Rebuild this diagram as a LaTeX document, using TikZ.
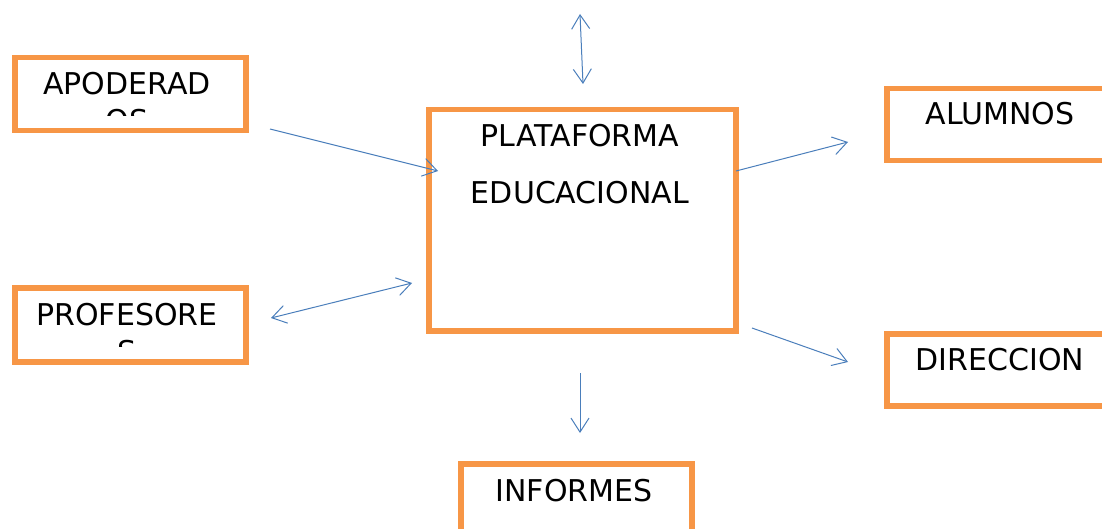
\documentclass[tikz,border=0pt]{standalone}
\usepackage{fontspec}
\setmainfont{DejaVu Sans}
\usepackage{xcolor}
\usetikzlibrary{arrows.meta,positioning}
\definecolor{boxorange}{HTML}{F79646}
\definecolor{linkblue}{HTML}{4A7EBB}
\tikzset{
    box/.style={draw=boxorange, line width=5.5pt, rectangle, inner sep=0pt, anchor=north west},
    boxtext/.style={font=\fontsize{30}{37}\selectfont, align=center, anchor=base, inner sep=0pt},
    barb/.tip={Straight Barb[length=14pt,width=18pt]},
    link/.style={draw=linkblue, line width=1pt, -barb},
    twolink/.style={draw=linkblue, line width=1pt, barb-barb}}

\begin{document}
\begin{tikzpicture}[x=1pt,y=-1pt]
\useasboundingbox (0,0) rectangle (1102,529);

%boxes
\node[box, minimum width=231pt, minimum height=73pt] (apod) at (12,55) {};
\node[box, minimum width=231pt, minimum height=74pt] (prof) at (12,285) {};
\node[box, minimum width=307pt, minimum height=221pt] (plat) at (426,107) {};
\node[box, minimum width=240pt, minimum height=72pt] (alum) at (884,86) {};
\node[box, minimum width=240pt, minimum height=72pt] (dire) at (884,331) {};
\node[box, minimum width=231pt, minimum height=90pt] (info) at (458,461) {};

%labels (base of a two line node is its last line)
\begin{scope}
\clip (12,55) rectangle (243,116);
\node[boxtext] (apodtxt) at (127,132) {APODERAD\\OS};
\end{scope}
\begin{scope}
\clip (12,285) rectangle (243,346);
\node[boxtext] (proftxt) at (127,362) {PROFESORE\\S};
\end{scope}
\node[boxtext, font=\fontsize{30}{57}\selectfont] (plattxt) at (580,204) {PLATAFORMA\\EDUCACIONAL};
\node[boxtext] (alumtxt) at (1000,125) {ALUMNOS};
\node[boxtext] (diretxt) at (1000,370) {DIRECCION};
\node[boxtext] (infotxt) at (574,501) {INFORMES};

%arrow ends
\coordinate (topa) at (580,14);
\coordinate (topb) at (583,84);
\coordinate (apoda) at (270,129);
\coordinate (apodb) at (438,171);
\coordinate (profa) at (271,318);
\coordinate (profb) at (412,283);
\coordinate (aluma) at (736,171);
\coordinate (alumb) at (848,142);
\coordinate (direa) at (752,328);
\coordinate (direb) at (848,362);
\coordinate (infoa) at (580,373);
\coordinate (infob) at (580,433);

%draw lines
\draw[twolink] (topa) -- (topb);
\draw[link] (apoda) -- (apodb);
\draw[twolink] (profa) -- (profb);
\draw[link] (aluma) -- (alumb);
\draw[link] (direa) -- (direb);
\draw[link] (infoa) -- (infob);

\end{tikzpicture}
\end{document}
